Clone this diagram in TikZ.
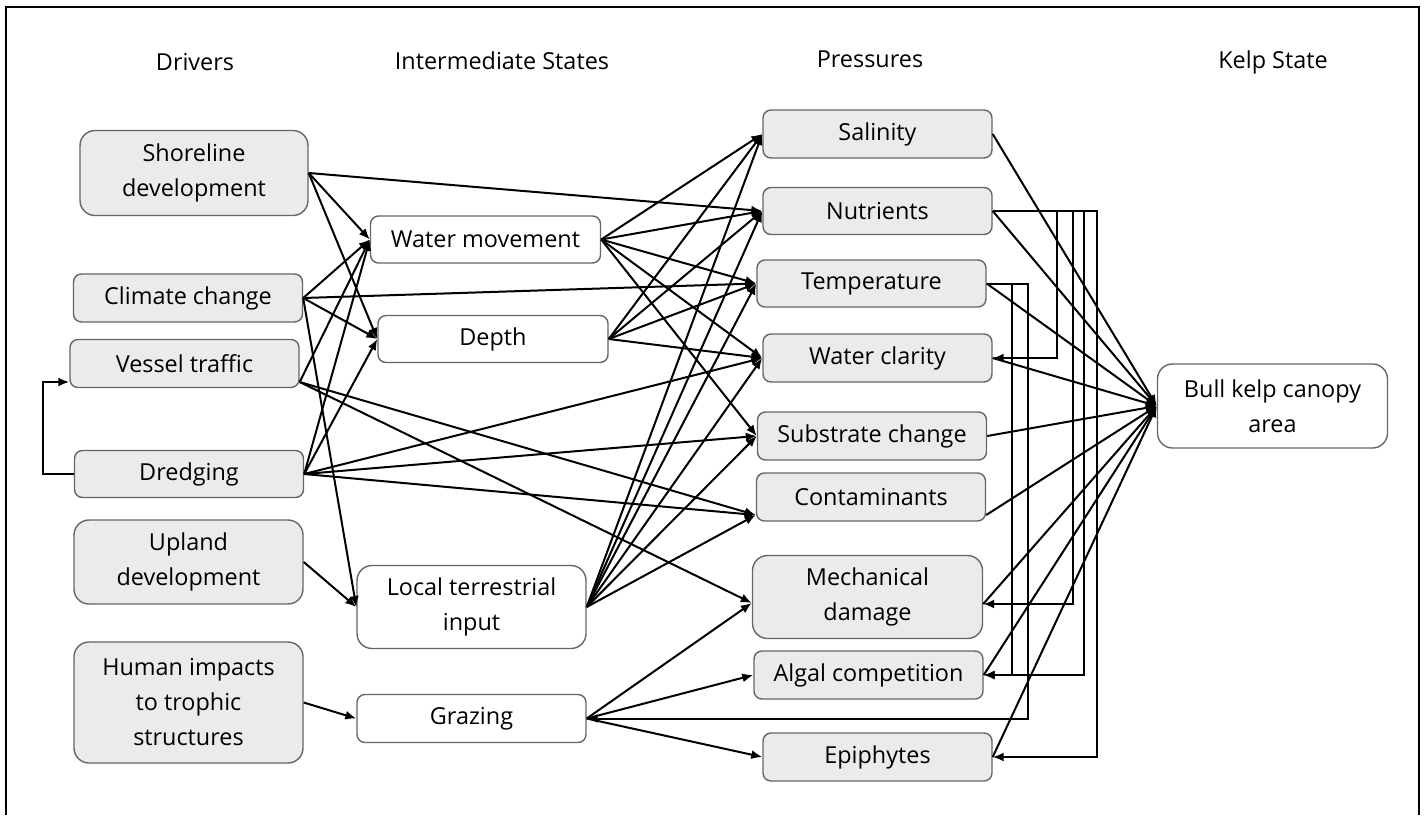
\documentclass[tikz,border=0pt]{standalone}
\usepackage{fontspec}
\setmainfont{Open Sans}
\usetikzlibrary{arrows.meta}
\begin{document}
\begin{tikzpicture}[x=0.5pt,y=-0.5pt,
  sz/.style 2 args={minimum width=#1*0.5pt, minimum height=#2*0.5pt},
  box/.style={draw=black!60, line width=0.7pt, rounded corners=4pt, align=center, inner sep=2pt,
    font=\fontsize{11.7}{17.5}\selectfont},
  gbox/.style={box, fill=black!8},
  wbox/.style={box, fill=white},
  tall/.style={rounded corners=7.5pt},
  hdr/.style={font=\fontsize{11.7}{14}\selectfont},
  arr/.style={line width=1pt, -{Latex[length=5.5pt,width=4.5pt]}},
  frame/.style={line width=1pt}]
\useasboundingbox (0,0) rectangle (1424,815);
\draw[frame] (6,815) -- (6,7) -- (1419,7) -- (1419,815);

% headers
\node[hdr] (h1) at (195,62) {Drivers};
\node[hdr] (h2) at (502,61) {Intermediate States};
\node[hdr] (h3) at (870,59) {Pressures};
\node[hdr] (h4) at (1273,62) {Kelp State};

% drivers
\node[gbox,tall,sz={228}{85}] (sd) at (194,173) {Shoreline\\development};
\node[gbox,sz={229}{48}] (cc) at (188,298) {Climate change};
\node[gbox,sz={229}{48}] (vt) at (184.5,363.5) {Vessel traffic};
\node[gbox,sz={229}{47}] (dr) at (189,474) {Dredging};
\node[gbox,tall,sz={229}{84}] (ud) at (188.5,562) {Upland\\development};
\node[gbox,tall,sz={229}{121}] (hi) at (188.5,702.5) {Human impacts\\to trophic\\structures};

% intermediate states
\node[wbox,sz={230}{47}] (wm) at (485.5,239.5) {Water movement};
\node[wbox,sz={230}{47}] (de) at (493,339) {Depth};
\node[wbox,tall,sz={229}{83}] (lti) at (471.5,607) {Local terrestrial\\input};
\node[wbox,sz={229}{48}] (gr) at (471.5,718.5) {Grazing};

% pressures
\node[gbox,sz={229}{48}] (sa) at (877.5,134) {Salinity};
\node[gbox,sz={229}{47}] (nu) at (877.5,211) {Nutrients};
\node[gbox,sz={229}{47}] (te) at (871.5,283.5) {Temperature};
\node[gbox,sz={229}{48}] (wc) at (877.5,358) {Water clarity};
\node[gbox,sz={229}{48}] (sc) at (872,436) {Substrate change};
\node[gbox,sz={229}{48}] (co) at (871,497) {Contaminants};
\node[gbox,tall,sz={230}{83}] (md) at (867.5,597) {Mechanical\\damage};
\node[gbox,sz={229}{48}] (ac) at (868.5,675) {Algal competition};
\node[gbox,sz={229}{48}] (ep) at (877.5,757) {Epiphytes};

% kelp state
\node[wbox,tall,sz={230}{84}] (kelp) at (1272.5,406) {Bull kelp canopy\\area};

% helper anchor points
\coordinate (vtr) at ([yshift=-9.25pt]vt.east);
\coordinate (vtl) at ([yshift=-9.25pt]vt.west);
\coordinate (cow) at ([yshift=-9pt]co.west);
\coordinate (coe) at ([yshift=-9pt]co.east);
\coordinate (mdw) at ([yshift=-3pt]md.west);
\coordinate (mde) at ([yshift=-3.5pt]md.east);
\coordinate (b1) at (1057,0);
\coordinate (b2) at (1073,0);
\coordinate (b3) at (1084,0);
\coordinate (b4) at (1097,0);
\coordinate (t1) at (1012,0);
\coordinate (t2) at (1028,0);

% drivers -> intermediate / pressures
\draw[arr] (sd.east) -- (nu.west);
\draw[arr] (sd.east) -- (wm.west);
\draw[arr] (sd.east) -- (de.west);
\draw[arr] (cc.east) -- (wm.west);
\draw[arr] (cc.east) -- (te.west);
\draw[arr] (cc.east) -- (de.west);
\draw[arr] (cc.east) -- (lti.west);
\draw[arr] (vtr) -- (wm.west);
\draw[arr] (vtr) -- (cow);
\draw[arr] (vtr) -- (mdw);
\draw[arr] (dr.east) -- (wm.west);
\draw[arr] (dr.east) -- (de.west);
\draw[arr] (dr.east) -- (wc.west);
\draw[arr] (dr.east) -- (sc.west);
\draw[arr] (dr.east) -- (cow);
\draw[arr] (dr.west) -- ++(-15.5pt,0) |- (vtl);
\draw[arr] (ud.east) -- (lti.west);
\draw[arr] (hi.east) -- (gr.west);

% intermediate -> pressures
\draw[arr] (wm.east) -- (sa.west);
\draw[arr] (wm.east) -- (nu.west);
\draw[arr] (wm.east) -- (te.west);
\draw[arr] (wm.east) -- (wc.west);
\draw[arr] (wm.east) -- (sc.west);
\draw[arr] (de.east) -- (sa.west);
\draw[arr] (de.east) -- (nu.west);
\draw[arr] (de.east) -- (te.west);
\draw[arr] (de.east) -- (wc.west);
\draw[arr] (lti.east) -- (sa.west);
\draw[arr] (lti.east) -- (nu.west);
\draw[arr] (lti.east) -- (te.west);
\draw[arr] (lti.east) -- (wc.west);
\draw[arr] (lti.east) -- (sc.west);
\draw[arr] (lti.east) -- (cow);
\draw[arr] (gr.east) -- (mdw);
\draw[arr] (gr.east) -- (ac.west);
\draw[arr] (gr.east) -- (ep.west);

% pressures -> kelp
\draw[arr] (sa.east) -- (kelp.west);
\draw[arr] (nu.east) -- (kelp.west);
\draw[arr] (te.east) -- (kelp.west);
\draw[arr] (wc.east) -- (kelp.west);
\draw[arr] (sc.east) -- (kelp.west);
\draw[arr] (coe) -- (kelp.west);
\draw[arr] (mde) -- (kelp.west);
\draw[arr] (ac.east) -- (kelp.west);
\draw[arr] (ep.east) -- (kelp.west);

% elbow connectors
\draw[arr] (nu.east) -| (b1 |- wc.east) -- (wc.east);
\draw[arr] (nu.east) -| (b2 |- mde) -- (mde);
\draw[arr] (nu.east) -| (b3 |- ac.east) -- (ac.east);
\draw[arr] (nu.east) -| (b4 |- ep.east) -- (ep.east);
\draw[arr] (te.east) -| (t1 |- ac.east) -- (ac.east);
\draw[arr] (te.east) -| (t2 |- gr.east) -- (gr.east);
\end{tikzpicture}
\end{document}
